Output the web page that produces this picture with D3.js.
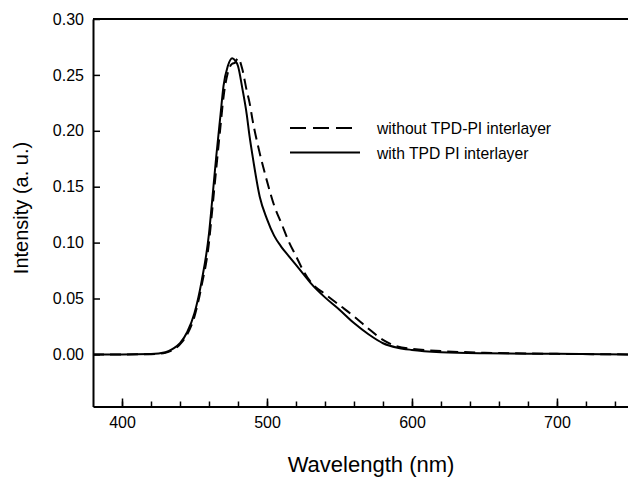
<!DOCTYPE html>
<html>
<head>
<meta charset="utf-8">
<script src="https://cdn.jsdelivr.net/npm/d3@7"></script>
<style>
  body { margin: 0; background: #fff; }
  text { font-family: "Liberation Sans", Arial, sans-serif; fill: #000; }
</style>
</head>
<body>
<svg id="chart" width="628" height="477"></svg>
<script>
// wavelength (nm) sample positions
const wavelength = [380, 400, 420, 430, 435, 440, 445, 450, 455, 460, 462, 465, 468, 470, 473, 476, 478, 480, 483, 486, 488, 490, 495, 500, 505, 510, 515, 520, 525, 530, 540, 550, 560, 570, 580, 590, 600, 620, 650, 700, 750];
// with TPD PI interlayer (solid)
const withInterlayer = [0, 0, 0.0003, 0.002, 0.005, 0.010, 0.020, 0.037, 0.066, 0.108, 0.135, 0.177, 0.215, 0.240, 0.258, 0.265, 0.263, 0.258, 0.238, 0.215, 0.195, 0.178, 0.141, 0.121, 0.106, 0.096, 0.088, 0.080, 0.072, 0.064, 0.051, 0.040, 0.028, 0.018, 0.010, 0.006, 0.004, 0.002, 0.001, 0.0005, 0];
// without TPD-PI interlayer (dashed)
const withoutInterlayer = [0, 0, 0.0002, 0.0015, 0.004, 0.009, 0.018, 0.034, 0.062, 0.100, 0.126, 0.166, 0.205, 0.230, 0.252, 0.260, 0.261, 0.265, 0.255, 0.236, 0.225, 0.210, 0.180, 0.155, 0.133, 0.117, 0.101, 0.088, 0.075, 0.065, 0.054, 0.044, 0.034, 0.023, 0.013, 0.007, 0.005, 0.003, 0.0015, 0.0005, 0];

const yTicks = [0.00, 0.05, 0.10, 0.15, 0.20, 0.25, 0.30];
const xMajor = [400, 500, 600, 700];
const xMinor = d3.range(400, 741, 20);

const svg = d3.select("#chart");
const plotLeft = 93, plotRight = 628, plotTop = 19, plotBottom = 406.5;

const x = d3.scaleLinear().domain([380, 749]).range([plotLeft, plotRight]);
const y = d3.scaleLinear().domain([-0.0466, 0.30]).range([plotBottom, plotTop]);

// frame top line
svg.append("line").attr("x1", plotLeft).attr("x2", plotRight).attr("y1", plotTop).attr("y2", plotTop)
    .attr("stroke", "#000").attr("stroke-width", 2);

// y axis
let yAxis = svg.append("g").attr("transform", `translate(${plotLeft},0)`)
    .call(d3.axisLeft(y).tickValues(yTicks).tickFormat(d3.format(".2f")).tickSize(-7).tickSizeOuter(0).tickPadding(9));
yAxis.select(".domain").attr("stroke-width", 2);
yAxis.selectAll(".tick line").attr("stroke-width", 1.5);
yAxis.selectAll("text").style("font-size", "16px");

// x axis minor ticks
let xMinorAxis = svg.append("g").attr("transform", `translate(0,${plotBottom})`)
    .call(d3.axisBottom(x).tickValues(xMinor).tickFormat("").tickSize(-5).tickSizeOuter(0));
xMinorAxis.selectAll(".tick line").attr("stroke-width", 1.5);
xMinorAxis.select(".domain").attr("stroke-width", 2);

// x axis major ticks with labels
let xAxis = svg.append("g").attr("transform", `translate(0,${plotBottom})`)
    .call(d3.axisBottom(x).tickValues(xMajor).tickFormat(d3.format("d")).tickSize(-8).tickSizeOuter(0).tickPadding(10));
xAxis.select(".domain").remove();
xAxis.selectAll(".tick line").attr("stroke-width", 1.5);
xAxis.selectAll("text").style("font-size", "16px");

// axis titles
svg.append("text").attr("x", 371).attr("y", 472).attr("text-anchor", "middle")
    .style("font-size", "22px").text("Wavelength (nm)");
svg.append("text").attr("transform", "translate(28,208) rotate(-90)").attr("text-anchor", "middle")
    .style("font-size", "20px").text("Intensity (a. u.)");

// curves
const line = d3.line().x(d => x(d[0])).y(d => y(d[1])).curve(d3.curveMonotoneX);
svg.append("clipPath").attr("id", "plotClip").append("rect")
    .attr("x", plotLeft).attr("y", plotTop).attr("width", plotRight - plotLeft).attr("height", plotBottom - plotTop);

svg.append("path").datum(wavelength.map((w, i) => [w, withoutInterlayer[i]]))
    .attr("d", line).attr("fill", "none").attr("stroke", "#000").attr("stroke-width", 2)
    .attr("stroke-dasharray", "11,6").attr("clip-path", "url(#plotClip)");
svg.append("path").datum(wavelength.map((w, i) => [w, withInterlayer[i]]))
    .attr("d", line).attr("fill", "none").attr("stroke", "#000").attr("stroke-width", 2)
    .attr("clip-path", "url(#plotClip)");

// legend
let legend = svg.append("g");
legend.append("line").attr("x1", 290).attr("x2", 353).attr("y1", 128).attr("y2", 128)
    .attr("stroke", "#000").attr("stroke-width", 2).attr("stroke-dasharray", "16,7");
legend.append("line").attr("x1", 290).attr("x2", 360).attr("y1", 152.5).attr("y2", 152.5)
    .attr("stroke", "#000").attr("stroke-width", 2);
legend.append("text").attr("x", 377).attr("y", 134).style("font-size", "15.7px").text("without TPD-PI interlayer");
legend.append("text").attr("x", 377).attr("y", 158.5).style("font-size", "15.7px").text("with TPD PI interlayer");
</script>
</body>
</html>
